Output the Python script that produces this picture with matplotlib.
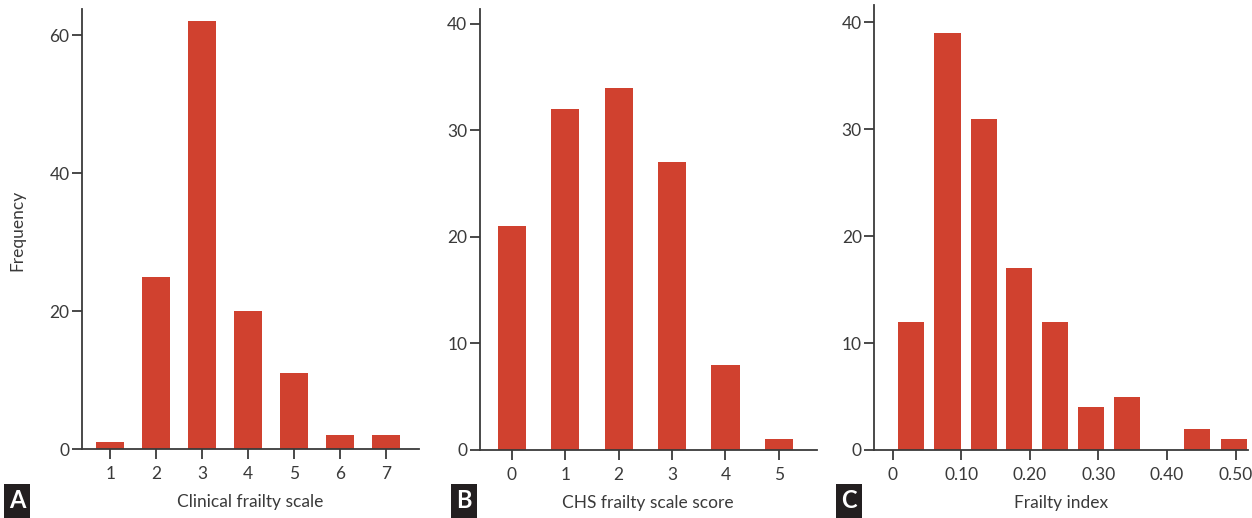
import matplotlib
matplotlib.use("Agg")
import matplotlib.pyplot as plt

plt.rcParams["font.family"] = ["Lato", "DejaVu Sans"]

BAR = "#d0412f"
INK = "#3a3a3a"

# panel A - clinical frailty scale
cfs_levels = [1, 2, 3, 4, 5, 6, 7]
cfs_counts = [1, 25, 62, 20, 11, 2, 2]

# panel B - CHS frailty scale score
chs_levels = [0, 1, 2, 3, 4, 5]
chs_counts = [21, 32, 34, 27, 8, 1]

# panel C - frailty index (bin centres)
fi_centres = [0.027, 0.080, 0.133, 0.184, 0.237, 0.289, 0.342, 0.394, 0.444, 0.498]
fi_counts = [12, 39, 31, 17, 12, 4, 5, 0, 2, 1]
fi_ticks = [0, 0.10, 0.20, 0.30, 0.40, 0.50]
fi_ticklabels = ["0", "0.10", "0.20", "0.30", "0.40", "0.50"]

fig = plt.figure(figsize=(12.52, 5.18), dpi=100)

axA = fig.add_axes([0.0655, 0.1332, 0.2692, 0.8494])
axB = fig.add_axes([0.3831, 0.1313, 0.2692, 0.8519])
axC = fig.add_axes([0.6983, 0.1313, 0.2985, 0.8585])


def style(ax):
    for side in ("top", "right"):
        ax.spines[side].set_visible(False)
    for side in ("left", "bottom"):
        ax.spines[side].set_color(INK)
        ax.spines[side].set_linewidth(1.3)
    ax.tick_params(colors=INK, labelcolor=INK, labelsize=12.5, length=7, width=1.3)
    ax.tick_params(axis="x", pad=5)
    ax.tick_params(axis="y", pad=2)


axA.bar(cfs_levels, cfs_counts, width=0.61, color=BAR)
axA.set_xlim(0.38, 7.72)
axA.set_ylim(0, 63.8)
axA.set_xticks(cfs_levels)
axA.set_yticks([0, 20, 40, 60])
axA.set_xlabel("Clinical frailty scale", fontsize=12.5, color=INK, labelpad=9)
style(axA)

axB.bar(chs_levels, chs_counts, width=0.53, color=BAR)
axB.set_xlim(-0.605, 5.71)
axB.set_ylim(0, 41.4)
axB.set_xticks(chs_levels)
axB.set_yticks([0, 10, 20, 30, 40])
axB.set_xlabel("CHS frailty scale score", fontsize=12.5, color=INK, labelpad=9)
style(axB)

axC.bar(fi_centres, fi_counts, width=0.038, color=BAR)
axC.set_xlim(-0.0267, 0.518)
axC.set_ylim(0, 41.6)
axC.set_xticks(fi_ticks)
axC.set_xticklabels(fi_ticklabels)
axC.set_yticks([0, 10, 20, 30, 40])
axC.set_xlabel("Frailty index", fontsize=12.5, color=INK, labelpad=9)
style(axC)

fig.text(17 / 1252, 1 - 230 / 518, "Frequency", rotation=90, ha="center", va="center",
         fontsize=12.5, color=INK)

# panel letters
for x0, letter in [(0.0, "A"), (447 / 1252, "B"), (832 / 1252, "C")]:
    fig.text(x0 + 17 / 1252, 17 / 518, letter, ha="center", va="center",
             color="white", fontsize=17, fontweight="bold",
             bbox=dict(boxstyle="square,pad=0.22", fc="#231f20", ec="none"))

fig.savefig("out.png", dpi=100)
